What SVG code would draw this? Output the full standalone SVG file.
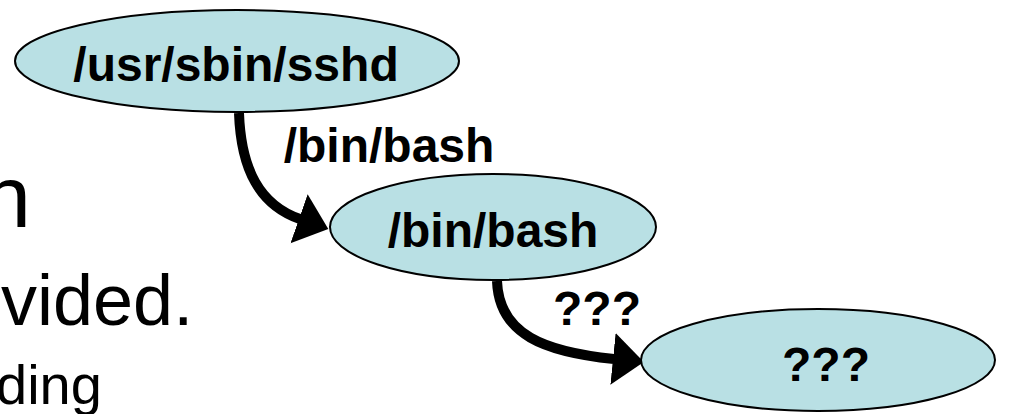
<svg xmlns="http://www.w3.org/2000/svg" width="1013" height="414" viewBox="0 0 1013 414">
  <style>
    .node { fill: #b9e0e4; stroke: #000; stroke-width: 2; }
    .label { font-family: "Liberation Sans", Arial, sans-serif; font-weight: bold; font-size: 48px; fill: #000; text-anchor: middle; }
    .edge { fill: none; stroke: #000; stroke-width: 10; }
    .body { font-family: "Liberation Sans", Arial, sans-serif; fill: #000; }
  </style>
  <defs>
    <marker id="head" markerUnits="userSpaceOnUse" markerWidth="32" markerHeight="54" viewBox="0 0 32 54" refX="1" refY="27" orient="auto">
      <path d="M0,1 L31,27 L0,53 Z" fill="#000"/>
    </marker>
  </defs>

  <!-- slide body text, clipped at the left edge -->
  <g id="body-text">
    <text class="body" x="-18" y="227" font-size="88">n</text>
    <text class="body" x="1" y="325" font-size="72">vided.</text>
    <text class="body" x="-4" y="404" font-size="56">ding</text>
  </g>

  <!-- connectors -->
  <g id="connectors">
    <path class="edge" d="M239,113 C241,170 260,205 300,219" marker-end="url(#head)"/>
    <path class="edge" d="M497,281 C499,335 545,352 614,359" marker-end="url(#head)"/>
    <text class="label" x="389" y="162">/bin/bash</text>
    <text class="label" x="597" y="325">???</text>
  </g>

  <g id="node-sshd">
    <ellipse class="node" cx="237" cy="61" rx="222" ry="51"/>
    <text class="label" x="236" y="81">/usr/sbin/sshd</text>
  </g>

  <g id="node-bash">
    <ellipse class="node" cx="493" cy="227" rx="163" ry="53"/>
    <text class="label" x="493" y="247">/bin/bash</text>
  </g>

  <g id="node-unknown">
    <ellipse class="node" cx="818" cy="360" rx="177" ry="51"/>
    <text class="label" x="826" y="381">???</text>
  </g>
</svg>
